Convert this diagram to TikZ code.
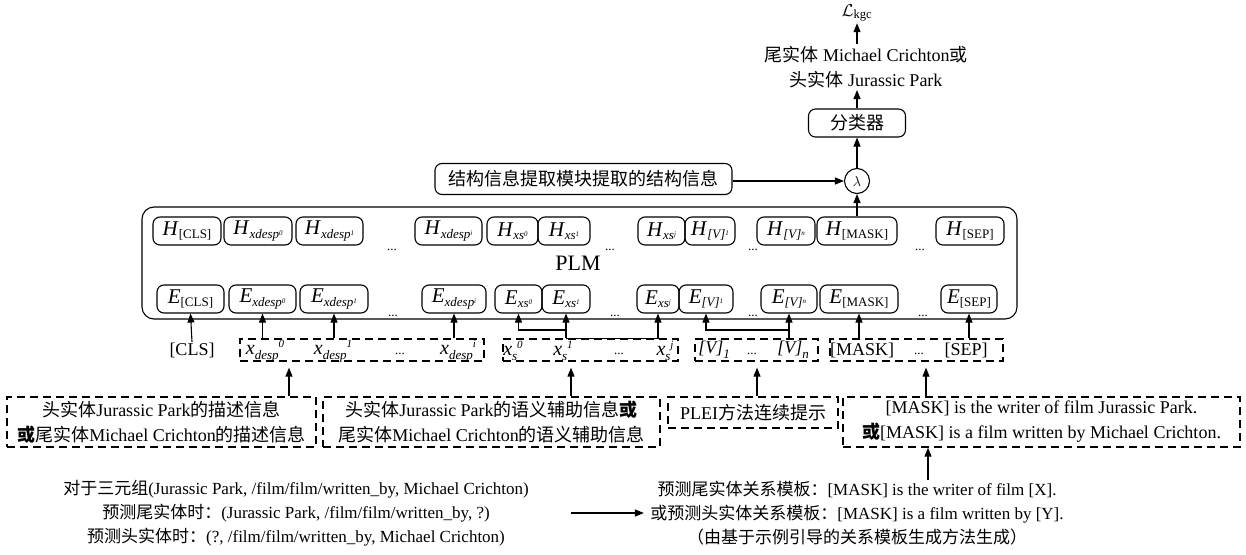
\documentclass[tikz,border=0pt]{standalone}
\usepackage{fontspec}
\setmainfont{Liberation Serif}
\newfontfamily\cjk{Noto Sans CJK SC}
\usetikzlibrary{arrows.meta}
\newcommand\zh[1]{{\cjk #1}}
\newcommand\zhb[1]{{\cjk\bfseries #1}}
% H / E labels
\newcommand\Hl[2]{\textit{#1}\raisebox{-0.35ex}{\fontsize{13}{13}\selectfont #2}}
\newcommand\Hi[3]{\textit{#1}\raisebox{-0.35ex}{\fontsize{13}{13}\selectfont\textit{#2}\raisebox{0.5ex}{\fontsize{7}{7}\selectfont\textit{#3}}}}
% token labels
\newcommand\Xl[3]{\textit{#1}\raisebox{-0.55ex}{\fontsize{13}{13}\selectfont\textit{#2}}\raisebox{0.75ex}{\fontsize{11}{11}\selectfont\textit{#3}}}
\begin{document}
\begin{tikzpicture}[x=1pt,y=-1pt,line width=1.1pt,
  arr/.style={-{Triangle[length=9pt,width=7pt]}},
  rbox/.style={draw,rounded corners=7pt,minimum height=28pt,inner sep=0pt},
  hebox/.style={rbox,font=\fontsize{21}{21}\selectfont},
  dbox/.style={draw,dash pattern=on 8pt off 5pt,line width=1.3pt,inner sep=0pt},
  txt/.style={font=\fontsize{18}{25}\selectfont,align=center,inner sep=0pt},
  tok/.style={font=\fontsize{18}{18}\selectfont,inner sep=0pt},
  dotn/.style={font=\fontsize{13}{13}\selectfont,inner sep=0pt}]
\useasboundingbox (0,0) rectangle (1246,554);

% top column
\node[font=\fontsize{18}{18}\selectfont,inner sep=1pt] (loss) at (857,13) {$\mathcal{L}_{\mathrm{kgc}}$};
\node[txt] (out) at (866,67) {\zh{尾实体} Michael Crichton\zh{或}\\\zh{头实体} Jurassic Park};
\node[rbox,minimum width=97pt,minimum height=28pt,font=\fontsize{18}{18}\selectfont] (clsf) at (857,123) {\zh{分类器}};
\node[draw,circle,minimum size=25pt,inner sep=0pt,font=\fontsize{15}{15}\selectfont] (lam) at (857,181) {$\lambda$};
\node[rbox,minimum width=297pt,minimum height=31pt,font=\fontsize{18}{18}\selectfont] (struct) at (583.5,179) {\zh{结构信息提取模块提取的结构信息}};

\coordinate (o1) at (857,44);
\coordinate (o2) at (857,90);
\draw[arr] (o1) -- (loss.south);
\draw[arr] (clsf.north) -- (o2);
\draw[arr] (lam.north) -- (clsf.south);
\draw[arr] (struct.east |- lam) -- (lam.west);

% PLM
\node[draw,rounded corners=12pt,minimum width=875pt,minimum height=112pt] (plm) at (579.5,263) {};
\node[font=\fontsize{22}{22}\selectfont] (plmt) at (578,263) {PLM};

% H row
\node[hebox,minimum width=68pt] (hcls) at (187,231) {\Hl{H}{[CLS]}};
\node[hebox,minimum width=68pt] (hd0) at (258,231) {\Hi{H}{xdesp}{0}};
\node[hebox,minimum width=67pt] (hd1) at (329.5,231) {\Hi{H}{xdesp}{1}};
\node[hebox,minimum width=67pt] (hdi) at (448.5,231) {\Hi{H}{xdesp}{i}};
\node[hebox,minimum width=51pt] (hs0) at (512.5,231) {\Hi{H}{xs}{0}};
\node[hebox,minimum width=52pt] (hs1) at (564,231) {\Hi{H}{xs}{1}};
\node[hebox,minimum width=47pt] (hsj) at (661.5,231) {\Hi{H}{xs}{j}};
\node[hebox,minimum width=50pt] (hv1) at (710,231) {\Hi{H}{[V]}{1}};
\node[hebox,minimum width=58pt] (hvn) at (786,231) {\Hi{H}{[V]}{n}};
\node[hebox,minimum width=80pt] (hmask) at (857,231) {\Hl{H}{[MASK]}};
\node[hebox,minimum width=68pt] (hsep) at (970,231) {\Hl{H}{[SEP]}};
\node[dotn] (hdt1) at (392,250) {...};
\node[dotn] (hdt2) at (610,250) {...};
\node[dotn] (hdt3) at (753,250) {...};
\node[dotn] (hdt4) at (920,250) {...};

% E row
\node[hebox,minimum width=67pt] (ecls) at (190.5,299) {\Hl{E}{[CLS]}};
\node[hebox,minimum width=67pt] (ed0) at (262.5,299) {\Hi{E}{xdesp}{0}};
\node[hebox,minimum width=68pt] (ed1) at (334,299) {\Hi{E}{xdesp}{1}};
\node[hebox,minimum width=64pt] (edi) at (454,299) {\Hi{E}{xdesp}{i}};
\node[hebox,minimum width=47pt] (es0) at (518.5,299) {\Hi{E}{xs}{0}};
\node[hebox,minimum width=48pt] (es1) at (566,299) {\Hi{E}{xs}{1}};
\node[hebox,minimum width=42pt] (esj) at (658,299) {\Hi{E}{xs}{j}};
\node[hebox,minimum width=54pt] (ev1) at (706,299) {\Hi{E}{[V]}{1}};
\node[hebox,minimum width=56pt] (evn) at (789,299) {\Hi{E}{[V]}{n}};
\node[hebox,minimum width=78pt] (emask) at (859,299) {\Hl{E}{[MASK]}};
\node[hebox,minimum width=56pt] (esep) at (969,299) {\Hl{E}{[SEP]}};
\node[dotn] (edt1) at (393,316) {...};
\node[dotn] (edt2) at (615,316) {...};
\node[dotn] (edt3) at (753,316) {...};
\node[dotn] (edt4) at (923,316) {...};

\draw[arr] (hmask.north) -- (lam.south);

% token row
\node[dbox,minimum width=244pt,minimum height=22pt] (bxd) at (362,350) {};
\node[dbox,minimum width=175pt,minimum height=22pt] (bxs) at (590.5,350) {};
\node[dbox,minimum width=123pt,minimum height=22pt] (bxv) at (756.5,350) {};
\node[dbox,minimum width=173pt,minimum height=22pt] (bxm) at (916.5,350) {};

\node[tok] (tcls) at (192,350) {[CLS]};
\node[tok,font=\fontsize{20}{20}\selectfont] (td0) at (265,351) {\Xl{x}{desp}{0}};
\node[tok,font=\fontsize{20}{20}\selectfont] (td1) at (333,351) {\Xl{x}{desp}{1}};
\node[dotn] (tdd) at (400,354) {...};
\node[tok,font=\fontsize{20}{20}\selectfont] (tdi) at (458,351) {\Xl{x}{desp}{i}};
\node[tok,font=\fontsize{20}{20}\selectfont] (ts0) at (513,351) {\Xl{x}{s}{0}};
\node[tok,font=\fontsize{20}{20}\selectfont] (ts1) at (563,351) {\Xl{x}{s}{1}};
\node[dotn] (tsd) at (619,354) {...};
\node[tok,font=\fontsize{20}{20}\selectfont] (tsj) at (665,351) {\Xl{x}{s}{j}};
\node[tok,font=\fontsize{18}{18}\selectfont] (tv1) at (714,350) {\Xl{[V]}{1}{}};
\node[dotn] (tvd) at (752,354) {...};
\node[tok,font=\fontsize{18}{18}\selectfont] (tvn) at (793,350) {\Xl{[V]}{n}{}};
\node[tok] (tmask) at (862,350) {[MASK]};
\node[dotn] (tmd) at (919,354) {...};
\node[tok] (tsep) at (966,350) {[SEP]};

% arrows token -> E
\draw[arr] (tcls.north) -- (ecls.south);
\draw[arr] (bxd.north -| ed0) -- (ed0.south);
\draw[arr] (bxd.north -| ed1) -- (ed1.south);
\draw[arr] (bxd.north -| edi) -- (edi.south);
\coordinate (j1) at (566,330);
\draw[arr] (bxs.north -| es1) -- (es1.south);
\draw[arr] (j1) -| (es0.south);
\draw[arr] (bxs.north -| es1) -| (esj.south);
\coordinate (j2) at (789,330);
\draw[arr] (bxv.north -| evn) -- (evn.south);
\draw[arr] (j2) -| (ev1.south);
\draw[arr] (bxm.north -| emask) -- (emask.south);
\draw[arr] (bxm.north -| esep) -- (esep.south);

% bottom boxes
\node[dbox,txt,minimum width=309pt,minimum height=50pt] (b1) at (161.5,422) {\zh{头实体}Jurassic Park\zh{的描述信息}\\\zhb{或}\zh{尾实体}Michael Crichton\zh{的描述信息}};
\node[dbox,txt,minimum width=337pt,minimum height=50pt] (b2) at (491.5,422) {\zh{头实体}Jurassic Park\zh{的语义辅助信息}\zhb{或}\\\zh{尾实体}Michael Crichton\zh{的语义辅助信息}};
\node[dbox,txt,minimum width=170pt,minimum height=31pt] (b3) at (753,412.5) {PLEI\zh{方法连续提示}};
\node[dbox,txt,minimum width=397pt,minimum height=50pt] (b4) at (1041.5,422) {[MASK] is the writer of film Jurassic Park.\\\zhb{或}[MASK] is a film written by Michael Crichton.};

\coordinate (a1) at (289,380);
\coordinate (a2) at (571,380);
\coordinate (a3) at (757,380);
\coordinate (a4) at (926,380);
\draw[arr,shorten >=6pt] (b1.north -| a1) -- (bxd.south -| a1);
\draw[arr,shorten >=6pt] (b2.north -| a2) -- (bxs.south -| a2);
\draw[arr,shorten >=6pt] (b3.north -| a3) -- (bxv.south -| a3);
\draw[arr,shorten >=6pt] (b4.north -| a4) -- (bxm.south -| a4);

% bottom texts
\node[txt,font=\fontsize{17}{24}\selectfont] (lt) at (296,513) {\zh{对于三元组}(Jurassic Park, /film/film/written\_by, Michael Crichton)\\\zh{预测尾实体时：}(Jurassic Park, /film/film/written\_by, ?)\\\zh{预测头实体时：}(?, /film/film/written\_by, Michael Crichton)};
\node[txt,font=\fontsize{17}{24}\selectfont] (rt) at (857,513) {\zh{预测尾实体关系模板：}[MASK] is the writer of film [X].\\\zh{或预测头实体关系模板：}[MASK] is a film written by [Y].\\\zh{（由基于示例引导的关系模板生成方法生成）}};
\coordinate (a5) at (928,480);
\draw[arr] (a5) -- (b4.south -| a5);
\draw[arr,shorten <=42pt,shorten >=6pt] (lt.east |- rt) -- (rt.west);
\end{tikzpicture}
\end{document}
